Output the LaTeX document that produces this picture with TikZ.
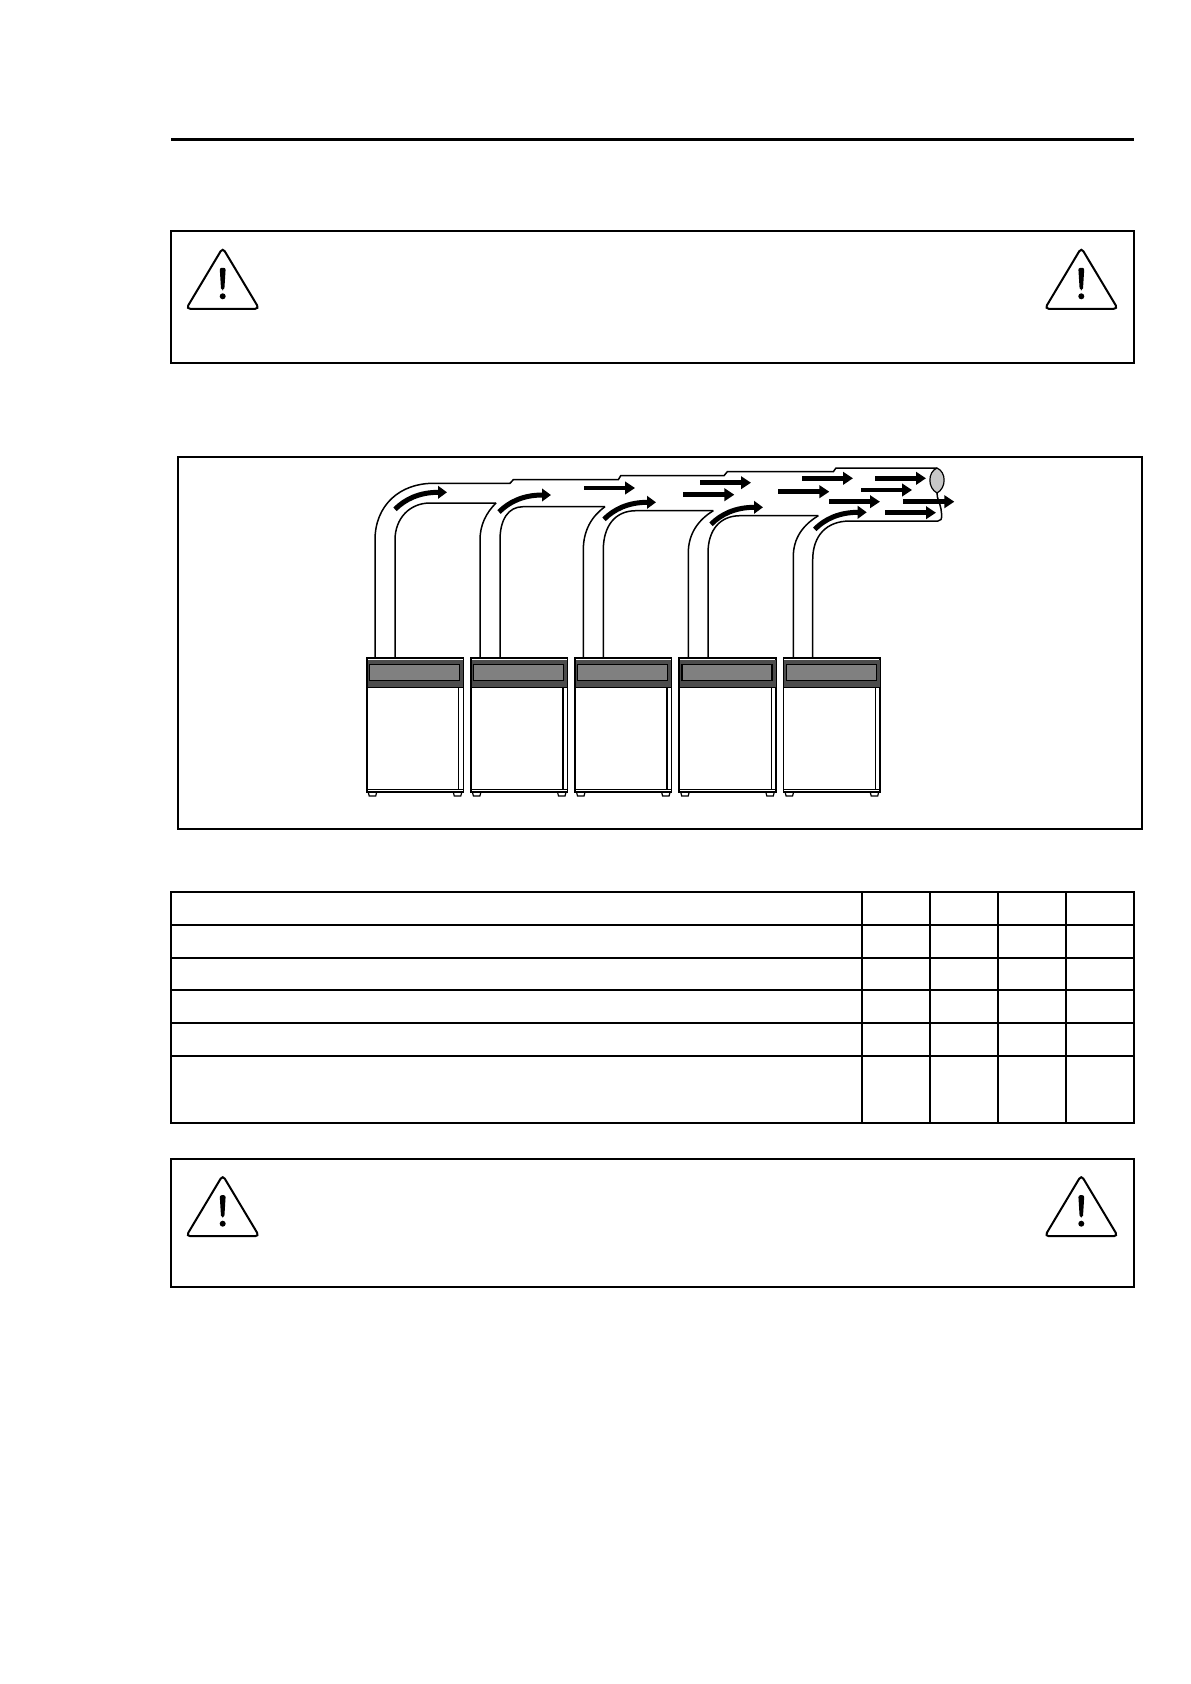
\documentclass[tikz,border=0pt]{standalone}
\usetikzlibrary{arrows.meta}
\definecolor{banddark}{gray}{0.30}
\definecolor{bandgray}{gray}{0.50}
\definecolor{pipeend}{gray}{0.78}
\tikzset{
    frameline/.style={line width=2pt},
    pipeline/.style={line width=1.5pt},
    cabline/.style={line width=1.6pt},
    flowarrow/.style={line width=4.5pt,-{Triangle[length=10pt,width=12.5pt]}},
    bendarrow/.style={line width=5pt,-{Triangle[length=9pt,width=12.5pt]}},
    warnline/.style={line width=2pt,rounded corners=4pt}
}
\begin{document}
\begin{tikzpicture}[x=1pt,y=-1pt]
    \useasboundingbox[fill=white] (0,0) rectangle (1191,1684);

    \draw[line width=3pt] (171,139.5)--(1134,139.5);

    \draw[frameline] (171,231) rectangle (1134,362.7);
    \draw[frameline] (171,1158.7) rectangle (1134,1286.7);
    \draw[frameline] (177.5,456.7) rectangle (1142,828.7);

    % warning signs
    \foreach \sx/\sy in {222.7/249.3,1081.3/249.3,222.7/1176.7,1081.3/1176.7}{
        \draw[warnline] (\sx,\sy-1.5)--(\sx+36.5,\sy+59.5)--(\sx-36.5,\sy+59.5)--cycle;
        \fill[rounded corners=2pt] (\sx-3,\sy+18.5)--(\sx+3,\sy+18.5)--(\sx+1.6,\sy+41)--(\sx-1.6,\sy+41)--cycle;
        \fill (\sx,\sy+47) circle (3pt);
    }

    % table
    \draw[frameline] (171,891.7) rectangle (1134,1122.7);
    \foreach \rowy in {924.7,957.7,989.7,1022.7,1055.7}{
        \draw[frameline] (171,\rowy)--(1134,\rowy);
    }
    \foreach \colx in {861.7,930,998,1066}{
        \draw[frameline] (\colx,891.7)--(\colx,1122.7);
    }

    % cabinets
    \foreach \cabx in {366.7,470.9,575,679.2,783.6}{
        \draw[cabline] (\cabx,657.7) rectangle ++(96.6,134.3);
        \draw[banddark,fill=banddark] (\cabx+1,660.5) rectangle ++(94.6,26.8);
        \draw[line width=1.2pt,fill=bandgray] (\cabx+2.8,664.3) rectangle ++(90,16.4);
        \draw[line width=1.2pt] (\cabx,687.3)--(\cabx+96.6,687.3);
        \draw[line width=1.2pt] (\cabx+92,687.3)--(\cabx+92,789.3);
        \draw[line width=1.2pt] (\cabx,789.3)--(\cabx+96.6,789.3);
        \draw[line width=1.2pt] (\cabx+1.5,792)--(\cabx+2.5,796)--(\cabx+9,796)--(\cabx+10,792);
        \draw[line width=1.2pt] (\cabx+86.6,792)--(\cabx+87.6,796)--(\cabx+94.1,796)--(\cabx+95.1,792);
    }

    % pipes
    \draw[pipeline] (375,657.7)--(375,540) .. controls (375,505) and (400,483.3) .. (433.3,483.3)
        --(510,483.3)--(513.3,479.7)--(618.3,479.7)--(620.7,475.7)--(724,475.7)--(727.3,471.7)
        --(833.3,471.7)--(836,468)--(937,468);
    \draw[pipeline] (395,657.7)--(395,540) .. controls (395,518) and (410,503) .. (430,503)--(496,503);
    \draw[pipeline] (496,503) .. controls (486,513) and (480,525) .. (480,540)--(480,657.7);
    \draw[pipeline] (500,657.7)--(500,540) .. controls (500,520) and (508,506.7) .. (523,506.7)--(605,506.7);
    \draw[pipeline] (605,506.7) .. controls (592,516) and (583.3,530) .. (583.3,550)--(583.3,657.7);
    \draw[pipeline] (603.3,657.7)--(603.3,550) .. controls (603.3,526) and (615,510.7) .. (636,510.7)--(713.3,510.7);
    \draw[pipeline] (713.3,510.7) .. controls (698,520) and (688.3,534) .. (688.3,553)--(688.3,657.7);
    \draw[pipeline] (708,657.7)--(708,553) .. controls (708,530) and (720,515.7) .. (740,515.7)--(818.3,515.7);
    \draw[pipeline] (818.3,515.7) .. controls (803,525) and (793.3,538) .. (793.3,556.7)--(793.3,657.7);
    \draw[pipeline] (812.7,657.7)--(812.7,560) .. controls (812.7,536) and (826,521) .. (850,521)--(938,521)
        .. controls (941,521) and (941.7,519) .. (941.7,515)--(941,509) .. controls (940,503) and (937,499) .. (937,493);

    % pipe end
    \draw[line width=1.2pt,fill=pipeend] (937,468) .. controls (927.5,472) and (927.5,488) .. (937,493)
        .. controls (946.5,488) and (946.5,472) .. (937,468)--cycle;

    % straight arrows
    \foreach \ax/\ay in {584/488,700/482.7,683.3/494.7,778.3/491.7,802/478.3,829/501.7,861/490,875/478.3,885/512.7,903.3/501.7}{
        \draw[flowarrow] (\ax,\ay)--++(51,0);
    }

    % curved arrows
    \foreach \ax/\ay in {395/509.3,499/512,604/519.3,711/524.3,814.7/529.3}{
        \draw[bendarrow] (\ax,\ay) .. controls (\ax+10,\ay-10) and (\ax+24,\ay-17) .. (\ax+52,\ay-17);
    }
\end{tikzpicture}
\end{document}
